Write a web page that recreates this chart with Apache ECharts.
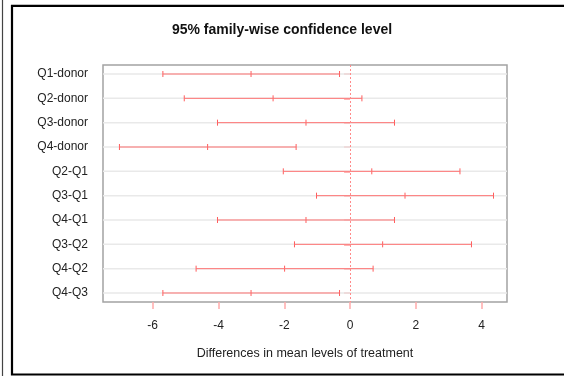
<!DOCTYPE html>
<html>
<head>
<meta charset="utf-8">
<script src="https://cdn.jsdelivr.net/npm/echarts@6/dist/echarts.min.js"></script>
<style>
  html, body { margin: 0; padding: 0; background: #fff; }
  #chart { width: 564px; height: 376px; }
</style>
</head>
<body>
<div id="chart"></div>
<script>
// Tukey HSD pairwise comparisons: estimated difference with lower/upper bounds
const comparisons = ['Q1-donor', 'Q2-donor', 'Q3-donor', 'Q4-donor', 'Q2-Q1', 'Q3-Q1', 'Q4-Q1', 'Q3-Q2', 'Q4-Q2', 'Q4-Q3'];
const diffValues  = [-3.01, -2.34, -1.34, -4.33, 0.66, 1.67, -1.34, 0.99, -1.99, -3.01];
const lowerValues = [-5.69, -5.04, -4.03, -7.01, -2.03, -1.02, -4.03, -1.69, -4.68, -5.69];
const upperValues = [-0.32, 0.36, 1.35, -1.64, 3.34, 4.36, 1.35, 3.69, 0.70, -0.32];
const xTicks = [-6, -4, -2, 0, 2, 4];

const rowIndex = comparisons.map((_, i) => i + 1);
const seriesData = comparisons.map((_, i) => [rowIndex[i], lowerValues[i], diffValues[i], upperValues[i]]);

const FONT = '"Liberation Sans", Arial, sans-serif';
const BAR_COLOR = '#ff7373';

function renderInterval(params, api) {
  const y = api.value(0);
  const pL = api.coord([api.value(1), y]);
  const pM = api.coord([api.value(2), y]);
  const pU = api.coord([api.value(3), y]);
  const cs = params.coordSys;
  const h = 3;
  const tick = p => ({
    type: 'line',
    shape: { x1: p[0], y1: p[1] - h, x2: p[0], y2: p[1] + h },
    style: { stroke: '#ff5c5c', lineWidth: 1 }
  });
  return {
    type: 'group',
    children: [
      {
        type: 'line', z2: 0,
        shape: { x1: cs.x, y1: pL[1], x2: cs.x + cs.width, y2: pL[1] },
        style: { stroke: '#e9e9e9', lineWidth: 1.5 }
      },
      {
        type: 'line', z2: 5,
        shape: { x1: pL[0], y1: pL[1], x2: pU[0], y2: pU[1] },
        style: { stroke: BAR_COLOR, lineWidth: 1 }
      },
      tick(pL), tick(pM), tick(pU)
    ]
  };
}

const chart = echarts.init(document.getElementById('chart'), null, { renderer: 'canvas' });
chart.setOption({
  animation: false,
  backgroundColor: '#fff',
  title: {
    text: '95% family-wise confidence level',
    left: 'center',
    top: 18,
    textStyle: { fontFamily: FONT, fontSize: 14, fontWeight: 'bold', color: '#111' }
  },
  graphic: [
    { type: 'line', shape: { x1: 2.5, y1: 0, x2: 2.5, y2: 376 }, style: { stroke: '#444', lineWidth: 1.2 } },
    { type: 'rect', shape: { x: 12, y: 5.8, width: 600, height: 368.7 }, style: { fill: 'none', stroke: '#000', lineWidth: 2.2 } }
  ],
  grid: {
    left: 103, right: 57, top: 65, bottom: 74,
    show: true, borderColor: '#a3a3a3', borderWidth: 1.5, backgroundColor: 'transparent'
  },
  xAxis: {
    type: 'value',
    min: -7.51, max: 4.77,
    name: 'Differences in mean levels of treatment',
    nameLocation: 'middle',
    nameGap: 45,
    nameTextStyle: { fontFamily: FONT, fontSize: 12.5, color: '#222' },
    axisLine: { show: false },
    splitLine: { show: false },
    axisTick: { show: true, length: 7, customValues: xTicks, lineStyle: { color: '#ffaaaa', width: 1.5 } },
    axisLabel: { customValues: xTicks, margin: 18, fontFamily: FONT, fontSize: 12, color: '#222' }
  },
  yAxis: {
    type: 'value',
    inverse: true,
    min: 0.63, max: 10.37,
    axisLine: { show: false },
    splitLine: { show: false },
    axisTick: { show: true, length: 6, customValues: rowIndex, lineStyle: { color: '#ff9a9a', width: 1.5 } },
    axisLabel: {
      customValues: rowIndex,
      margin: 15,
      fontFamily: FONT, fontSize: 12, color: '#222',
      formatter: v => comparisons[Math.round(v) - 1] || ''
    }
  },
  series: [{
    type: 'custom',
    renderItem: renderInterval,
    encode: { x: [1, 2, 3], y: 0 },
    data: seriesData,
    clip: true,
    markLine: {
      silent: true,
      symbol: 'none',
      label: { show: false },
      lineStyle: { color: '#ff8a8a', type: [2, 2], width: 1 },
      data: [{ xAxis: 0 }]
    }
  }]
});
</script>
</body>
</html>
